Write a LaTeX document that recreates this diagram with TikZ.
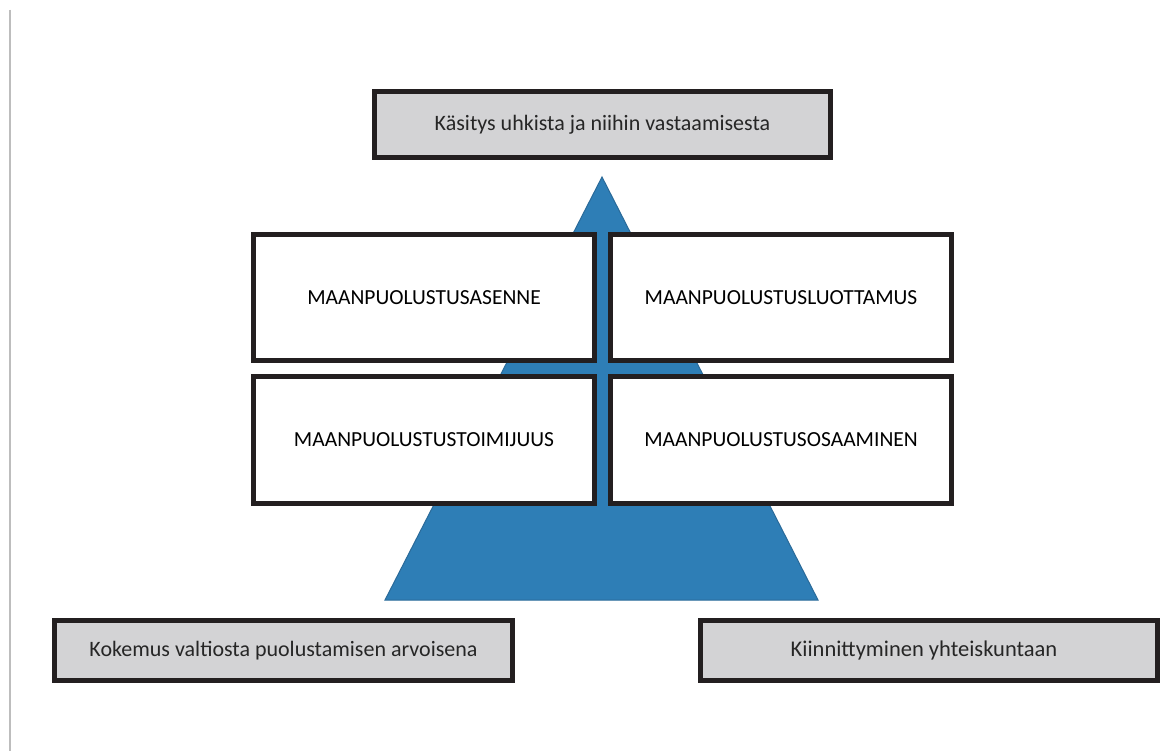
\documentclass[tikz,border=0pt]{standalone}
\usepackage{fontspec}
\setmainfont{Carlito}
\definecolor{boxgray}{HTML}{D3D3D5}
\definecolor{boxline}{HTML}{231F20}
\definecolor{pyrblue}{HTML}{2E7EB6}
\definecolor{pyredge}{HTML}{2A6A99}
\definecolor{sideline}{HTML}{BDBDBD}
\tikzset{
  graybox/.style={draw=boxline, line width=5pt, fill=boxgray, inner sep=0pt, minimum height=60pt,
    font=\fontsize{22}{26}\selectfont, text=black!85},
  capbox/.style={draw=boxline, line width=5.5pt, fill=white, inner sep=0pt, minimum width=341pt,
    font=\fontsize{21.5}{25}\selectfont, text=black},
}
\begin{document}
\begin{tikzpicture}[x=1pt,y=-1pt]
\useasboundingbox (0,0) rectangle (1161,751);
\fill[white] (0,0) rectangle (1161,751);
\draw[sideline, line width=1.5pt] (10,10) -- (10,751);
% pyramid
\filldraw[fill=pyrblue, draw=pyredge, line width=1pt] (602,177) -- (385,600) -- (818,600) -- cycle;
% top box
\node[graybox, minimum width=456pt, minimum height=66pt] (top) at (602.5,124.5) {Käsitys uhkista ja niihin vastaamisesta};
% four boxes
\node[capbox, minimum height=126pt] (asenne) at (424,297.5) {MAANPUOLUSTUSASENNE};
\node[capbox, minimum height=126pt] (luottamus) at (781,297.5) {MAANPUOLUSTUSLUOTTAMUS};
\node[capbox, minimum height=127pt] (toimijuus) at (424,440) {MAANPUOLUSTUSTOIMIJUUS};
\node[capbox, minimum height=127pt] (osaaminen) at (781,440) {MAANPUOLUSTUSOSAAMINEN};
% bottom boxes
\node[graybox, minimum width=458pt] (kokemus) at (283.5,650.5) {Kokemus valtiosta puolustamisen arvoisena};
\node[graybox, minimum width=457pt, font=\fontsize{22.5}{26}\selectfont] (kiinn) at (929,650.5) {\hspace*{-10pt}Kiinnittyminen yhteiskuntaan};
\end{tikzpicture}
\end{document}
